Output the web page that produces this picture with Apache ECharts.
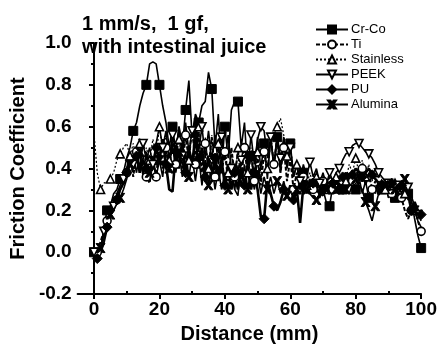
<!DOCTYPE html>
<html>
<head>
<meta charset="utf-8">
<script src="https://cdn.jsdelivr.net/npm/echarts@6/dist/echarts.min.js"></script>
<style>
  html, body { margin: 0; padding: 0; background: #fff; }
  #chart { width: 440px; height: 349px; }
</style>
</head>
<body>
<div id="chart"></div>
<script>
// distance in mm, one reading per mm
const distance = [
  0, 1, 2, 3, 4, 5, 6, 7, 8, 9, 10, 11, 12, 13, 14, 15, 16, 17, 18, 19,
  20, 21, 22, 23, 24, 25, 26, 27, 28, 29, 30, 31, 32, 33, 34, 35, 36, 37, 38, 39,
  40, 41, 42, 43, 44, 45, 46, 47, 48, 49, 50, 51, 52, 53, 54, 55, 56, 57, 58, 59,
  60, 61, 62, 63, 64, 65, 66, 67, 68, 69, 70, 71, 72, 73, 74, 75, 76, 77, 78, 79,
  80, 81, 82, 83, 84, 85, 86, 87, 88, 89, 90, 91, 92, 93, 94, 95, 96, 97, 98, 99, 100
]

const crCo = [
  0.0, -0.02, 0.0, 0.12, 0.2, 0.22, 0.28, 0.3, 0.35, 0.38, 0.45, 0.5, 0.58, 0.62, 0.7, 0.76, 0.8, 0.9, 0.91, 0.9,
  0.8, 0.7, 0.62, 0.5, 0.6, 0.48, 0.6, 0.5, 0.68, 0.82, 0.55, 0.66, 0.62, 0.7, 0.72, 0.86, 0.78, 0.5, 0.66, 0.4,
  0.6, 0.45, 0.68, 0.72, 0.72, 0.5, 0.62, 0.38, 0.46, 0.35, 0.55, 0.4, 0.52, 0.35, 0.55, 0.4, 0.55, 0.38, 0.55, 0.42,
  0.52, 0.36, 0.42, 0.3, 0.38, 0.3, 0.35, 0.28, 0.33, 0.26, 0.3, 0.24, 0.22, 0.32, 0.28, 0.36, 0.3, 0.38, 0.32, 0.36,
  0.3, 0.36, 0.28, 0.34, 0.26, 0.32, 0.28, 0.34, 0.3, 0.32, 0.26, 0.3, 0.26, 0.32, 0.28, 0.32, 0.28, 0.25, 0.16, 0.08, 0.02
]

const ti = [
  -0.02, 0.0, 0.05, 0.1, 0.15, 0.18, 0.2, 0.25, 0.3, 0.33, 0.38, 0.46, 0.36, 0.48, 0.38, 0.46, 0.36, 0.33, 0.44, 0.36,
  0.52, 0.4, 0.5, 0.38, 0.55, 0.42, 0.58, 0.4, 0.56, 0.44, 0.6, 0.42, 0.55, 0.38, 0.52, 0.4, 0.55, 0.36, 0.5, 0.38,
  0.48, 0.34, 0.5, 0.36, 0.48, 0.35, 0.5, 0.36, 0.48, 0.34, 0.45, 0.32, 0.48, 0.38, 0.55, 0.42, 0.55, 0.38, 0.5, 0.34,
  0.45, 0.3, 0.38, 0.3, 0.36, 0.28, 0.35, 0.3, 0.36, 0.28, 0.34, 0.3, 0.36, 0.3, 0.34, 0.28, 0.34, 0.3, 0.38, 0.34,
  0.4, 0.35, 0.4, 0.32, 0.38, 0.3, 0.34, 0.27, 0.32, 0.28, 0.33, 0.28, 0.33, 0.28, 0.26, 0.2, 0.16, 0.2, 0.22, 0.15, 0.1
]

const stainless = [
  0.57, 0.38, 0.3, 0.33, 0.34, 0.35, 0.38, 0.44, 0.47, 0.5, 0.52, 0.46, 0.52, 0.44, 0.52, 0.42, 0.5, 0.44, 0.54, 0.46,
  0.6, 0.48, 0.56, 0.44, 0.58, 0.46, 0.54, 0.42, 0.56, 0.44, 0.58, 0.42, 0.6, 0.45, 0.55, 0.4, 0.56, 0.4, 0.52, 0.38,
  0.5, 0.38, 0.48, 0.36, 0.5, 0.4, 0.52, 0.38, 0.5, 0.36, 0.48, 0.38, 0.5, 0.4, 0.52, 0.56, 0.6, 0.64, 0.56, 0.46,
  0.5, 0.4, 0.42, 0.34, 0.4, 0.32, 0.38, 0.32, 0.36, 0.3, 0.36, 0.3, 0.38, 0.32, 0.36, 0.32, 0.38, 0.34, 0.42, 0.38,
  0.45, 0.38, 0.44, 0.36, 0.42, 0.34, 0.38, 0.3, 0.35, 0.3, 0.34, 0.28, 0.33, 0.28, 0.32, 0.28, 0.25, 0.22, 0.2, 0.18, 0.16
]

const peek = [
  0.0, -0.02, 0.02, 0.1, 0.15, 0.2, 0.22, 0.28, 0.32, 0.35, 0.4, 0.48, 0.42, 0.5, 0.4, 0.52, 0.44, 0.5, 0.42, 0.52,
  0.6, 0.5, 0.58, 0.44, 0.56, 0.48, 0.6, 0.46, 0.62, 0.48, 0.58, 0.64, 0.48, 0.6, 0.45, 0.58, 0.44, 0.56, 0.42, 0.55,
  0.44, 0.56, 0.4, 0.3, 0.27, 0.44, 0.52, 0.4, 0.56, 0.42, 0.54, 0.6, 0.58, 0.45, 0.55, 0.42, 0.56, 0.45, 0.54, 0.4,
  0.5, 0.36, 0.42, 0.34, 0.42, 0.36, 0.43, 0.36, 0.4, 0.33, 0.38, 0.32, 0.38, 0.34, 0.38, 0.4, 0.44, 0.47, 0.48, 0.51,
  0.52, 0.52, 0.5, 0.48, 0.47, 0.45, 0.42, 0.38, 0.36, 0.34, 0.33, 0.32, 0.33, 0.32, 0.3, 0.33, 0.31, 0.27, 0.22, 0.18, 0.15
]

const pu = [
  -0.03, -0.03, 0.0, 0.05, 0.12, 0.18, 0.22, 0.25, 0.3, 0.33, 0.38, 0.44, 0.4, 0.46, 0.38, 0.44, 0.4, 0.46, 0.4, 0.5,
  0.44, 0.54, 0.42, 0.3, 0.29, 0.48, 0.4, 0.52, 0.38, 0.5, 0.42, 0.56, 0.4, 0.5, 0.36, 0.46, 0.34, 0.45, 0.34, 0.44,
  0.32, 0.42, 0.3, 0.38, 0.3, 0.4, 0.32, 0.4, 0.3, 0.38, 0.3, 0.17, 0.16, 0.34, 0.28, 0.22, 0.2, 0.24, 0.3, 0.26,
  0.32, 0.25, 0.3, 0.14, 0.32, 0.34, 0.3, 0.33, 0.3, 0.28, 0.3, 0.32, 0.3, 0.33, 0.35, 0.32, 0.36, 0.38, 0.35, 0.37,
  0.4, 0.38, 0.36, 0.38, 0.4, 0.37, 0.35, 0.33, 0.32, 0.3, 0.31, 0.33, 0.32, 0.3, 0.32, 0.3, 0.28, 0.2, 0.24, 0.2, 0.18
]

const alumina = [
  0.0, -0.03, 0.02, 0.08, 0.14, 0.18, 0.2, 0.24, 0.26, 0.3, 0.35, 0.42, 0.46, 0.38, 0.48, 0.36, 0.48, 0.38, 0.46, 0.36,
  0.44, 0.36, 0.5, 0.4, 0.52, 0.38, 0.48, 0.36, 0.48, 0.36, 0.46, 0.34, 0.46, 0.32, 0.44, 0.32, 0.42, 0.3, 0.4, 0.3,
  0.38, 0.3, 0.4, 0.3, 0.4, 0.32, 0.42, 0.3, 0.4, 0.3, 0.38, 0.28, 0.36, 0.3, 0.36, 0.28, 0.34, 0.28, 0.34, 0.27,
  0.32, 0.26, 0.3, 0.28, 0.32, 0.3, 0.28, 0.26, 0.25, 0.28, 0.27, 0.3, 0.28, 0.32, 0.3, 0.28, 0.33, 0.3, 0.28, 0.32,
  0.35, 0.32, 0.3, 0.24, 0.2, 0.15, 0.22, 0.28, 0.3, 0.32, 0.3, 0.33, 0.3, 0.28, 0.32, 0.35, 0.3, 0.24, 0.2, 0.15, 0.12
]

const xTicks = [0, 20, 40, 60, 80, 100]
const xMinorTicks = [10, 30, 50, 70, 90]

const FONT = 'Liberation Sans, Arial, sans-serif'
const X_SHAPE = 'path://M0,0L3,0L5,3L7,0L10,0L6.5,5L10,10L7,10L5,7L3,10L0,10L3.5,5Z'

// only some readings get a marker, every `step`-th one shifted by `offset`
function points(ys, step, offset) {
  return distance.map((x, i) => (
    i % step === offset ? [x, ys[i]] : { value: [x, ys[i]], symbol: 'none' }
  ))
}

function line(name, ys, step, offset, symbol, opts) {
  return Object.assign({
    name,
    type: 'line',
    data: points(ys, step, offset),
    symbol,
    symbolSize: 8,
    showAllSymbol: true,
    lineStyle: { color: '#000', width: 1.6 },
    itemStyle: { color: '#000', borderColor: '#000', borderWidth: 1 },
    emphasis: { disabled: true },
  }, opts)
}

const hollow = { color: '#fff', borderColor: '#000', borderWidth: 1.6 }

const chart = echarts.init(document.getElementById('chart'))
chart.setOption({
  animation: false,
  title: {
    text: '1 mm/s,  1 gf,\nwith intestinal juice',
    left: 77,
    top: 8,
    textStyle: { fontFamily: FONT, fontSize: 20, fontWeight: 'bold', color: '#000', lineHeight: 23 },
  },
  legend: {
    orient: 'vertical',
    left: 310,
    top: 18,
    itemWidth: 32,
    itemHeight: 10,
    itemGap: 2,
    textStyle: { fontFamily: FONT, fontSize: 13, color: '#000', padding: [0, 0, 0, -2] },
  },
  grid: { left: 75, right: 18, top: 43, bottom: 53 },
  xAxis: [{
    type: 'value',
    min: -5,
    max: 100,
    name: 'Distance (mm)',
    nameLocation: 'middle',
    nameGap: 29,
    nameTextStyle: { fontFamily: FONT, fontSize: 20, fontWeight: 'bold', color: '#000' },
    axisLine: { onZero: false, lineStyle: { color: '#000', width: 2 } },
    axisTick: { customValues: xTicks, length: 5, lineStyle: { color: '#000', width: 2 } },
    axisLabel: { customValues: xTicks, margin: 6, fontFamily: FONT, fontSize: 19, fontWeight: 'bold', color: '#000' },
    splitLine: { show: false },
  }, {
    type: 'value',
    position: 'bottom',
    min: -5,
    max: 100,
    axisLine: { show: false, onZero: false },
    axisTick: { inside: true, customValues: xMinorTicks, length: 3, lineStyle: { color: '#000', width: 2 } },
    axisLabel: { show: false },
    splitLine: { show: false },
  }],
  yAxis: {
    type: 'value',
    min: -0.2,
    max: 1.0,
    interval: 0.2,
    name: 'Friction Coefficient',
    nameLocation: 'middle',
    nameGap: 36,
    nameTextStyle: { fontFamily: FONT, fontSize: 20, fontWeight: 'bold', color: '#000' },
    axisLine: { show: true, lineStyle: { color: '#000', width: 2 } },
    axisTick: { show: true, length: 5, lineStyle: { color: '#000', width: 2 } },
    minorTick: { show: true, splitNumber: 2, length: 3, lineStyle: { color: '#000', width: 2 } },
    axisLabel: {
      margin: 6, fontFamily: FONT, fontSize: 19, fontWeight: 'bold', color: '#000',
      formatter: (v) => v.toFixed(1),
    },
    splitLine: { show: false },
  },
  series: [
    line('Cr-Co', crCo, 4, 0, 'rect', { symbolSize: 9 }),
    line('Ti', ti, 3, 1, 'circle', {
      lineStyle: { color: '#000', width: 2, type: [4, 2] },
      itemStyle: hollow,
    }),
    line('Stainless', stainless, 3, 2, 'triangle', {
      lineStyle: { color: '#000', width: 1.2, type: [2, 2] },
      itemStyle: hollow,
    }),
    line('PEEK', peek, 3, 0, 'triangle', { symbolRotate: 180, itemStyle: hollow }),
    line('PU', pu, 3, 1, 'diamond', { symbolSize: 10, lineStyle: { color: '#000', width: 2.6 } }),
    line('Alumina', alumina, 3, 2, X_SHAPE, { symbolSize: 9 }),
  ],
})
</script>
</body>
</html>
